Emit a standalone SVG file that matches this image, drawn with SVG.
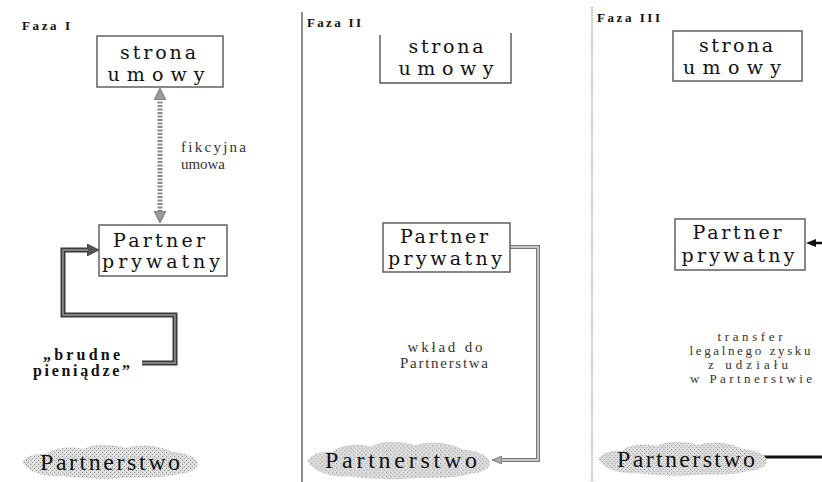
<svg xmlns="http://www.w3.org/2000/svg" width="822" height="482" viewBox="0 0 822 482">
<style>
.bg{fill:#ffffff}
.box{fill:#ffffff;stroke:#555;stroke-width:1.4}
.bt{font-family:"DejaVu Serif","Liberation Serif",serif;font-size:19px;fill:#111;text-anchor:middle}
.faza{font-family:"Liberation Serif",serif;font-weight:bold;font-size:13px;fill:#111}
.lbl{font-family:"Liberation Serif",serif;font-size:15px;fill:#333;text-anchor:middle}
.lbl3{font-family:"Liberation Serif",serif;font-size:13px;fill:#333;text-anchor:middle}
.lbl2{font-family:"Liberation Serif",serif;font-size:15px;fill:#333}
.dirty{font-family:"Liberation Serif",serif;font-weight:bold;font-size:16px;fill:#111}
.pt{font-family:"Liberation Serif",serif;font-size:24px;fill:#111}
.cloud{fill:url(#speck)}
.sep{stroke:#444;stroke-width:1.2;fill:none}
</style>
<defs>
<pattern id="speck" width="4" height="4" patternUnits="userSpaceOnUse">
<rect width="4" height="4" fill="#dcdcdc"/>
<rect x="0" y="0" width="1" height="1" fill="#8c8c8c"/>
<rect x="2" y="2" width="1" height="1" fill="#a0a0a0"/>
<rect x="3" y="0" width="1" height="1" fill="#f2f2f2"/>
</pattern>
<path id="cloudShape" d="M0,18 C4,12 14,9 24,10 C32,3 50,2 62,5 C72,-1 92,0 104,4 C118,-1 140,2 150,8 C162,8 174,13 176,19 C177,25 168,29 156,30 C140,35 118,33 100,34 C80,36 56,34 40,32 C24,34 6,28 0,18 Z"/>
<marker id="mGray" markerUnits="userSpaceOnUse" viewBox="0 0 12 12" refX="2" refY="6" markerWidth="12" markerHeight="12" orient="auto-start-reverse">
<path d="M0,0 L12,6 L0,12 Z" fill="#999" stroke="#666" stroke-width="0.8"/>
</marker>
<marker id="mDark" markerUnits="userSpaceOnUse" viewBox="0 0 12 12" refX="1" refY="6" markerWidth="12" markerHeight="12" orient="auto">
<path d="M0,0 L12,6 L0,12 Z" fill="#555" stroke="#333" stroke-width="0.8"/>
</marker>
<marker id="mLight" markerUnits="userSpaceOnUse" viewBox="0 0 10 8" refX="0" refY="4" markerWidth="10" markerHeight="8" orient="auto">
<path d="M0,0 L10,4 L0,8 Z" fill="#aaa" stroke="#666" stroke-width="0.8"/>
</marker>
<marker id="mBlack" markerUnits="userSpaceOnUse" viewBox="0 0 10 8" refX="0" refY="4" markerWidth="10" markerHeight="8" orient="auto">
<path d="M0,0 L10,4 L0,8 Z" fill="#111"/>
</marker>
</defs>
<rect class="bg" x="0" y="0" width="822" height="482"/>

<g id="separators">
<line class="sep" x1="302" y1="12" x2="302" y2="482"/>
<line x1="592" y1="7" x2="592" y2="482" stroke="#777" stroke-width="1" stroke-dasharray="1.5 1"/>
</g>

<g id="phase-labels">
<text class="faza" x="22" y="30" textLength="48" lengthAdjust="spacing">Faza I</text>
<text class="faza" x="307" y="27" textLength="54" lengthAdjust="spacing">Faza II</text>
<text class="faza" x="597" y="22" textLength="63" lengthAdjust="spacing">Faza III</text>
</g>

<g id="connectors">
<line x1="160" y1="98" x2="160" y2="213" stroke="#888" stroke-width="5" stroke-dasharray="2 1.5" marker-start="url(#mGray)" marker-end="url(#mGray)"/>
<path d="M142,363 H175 V315 H63 V250 H88" fill="none" stroke="#3a3a3a" stroke-width="5" marker-end="url(#mDark)"/>
<path d="M142,363 H175 V315 H63 V250 H88" fill="none" stroke="#9a9a9a" stroke-width="1.4"/>
<path d="M510,247 H538 V460 H502" fill="none" stroke="#777" stroke-width="4" marker-end="url(#mLight)"/>
<path d="M510,247 H538 V460 H502" fill="none" stroke="#e2e2e2" stroke-width="1.4"/>
<line x1="822" y1="243" x2="816" y2="243" stroke="#111" stroke-width="2.5" marker-end="url(#mBlack)"/>
<line x1="762" y1="457" x2="822" y2="457" stroke="#111" stroke-width="3"/>
</g>

<g id="labels">
<text class="lbl2" x="181" y="152" textLength="65" lengthAdjust="spacing">fikcyjna</text>
<text class="lbl2" x="181" y="169" textLength="44" lengthAdjust="spacing">umowa</text>
<text class="dirty" x="43" y="360" textLength="77" lengthAdjust="spacing">„brudne</text>
<text class="dirty" x="33" y="376" textLength="97" lengthAdjust="spacing">pieniądze”</text>
<text class="lbl" x="445" y="352" textLength="75" lengthAdjust="spacing">wkład do</text>
<text class="lbl" x="444" y="368" textLength="88" lengthAdjust="spacing">Partnerstwa</text>
<text class="lbl3" x="750" y="341" textLength="65" lengthAdjust="spacing">transfer</text>
<text class="lbl3" x="750" y="355" textLength="121" lengthAdjust="spacing">legalnego zysku</text>
<text class="lbl3" x="748" y="369" textLength="80" lengthAdjust="spacing">z udziału</text>
<text class="lbl3" x="751" y="383" textLength="122" lengthAdjust="spacing">w Partnerstwie</text>
</g>

<g id="strona-1">
<rect class="box" x="97" y="36" width="126" height="51"/>
<text class="bt" x="158" y="59" textLength="76" lengthAdjust="spacing">strona</text>
<text class="bt" x="156" y="81" textLength="97" lengthAdjust="spacing">umowy</text>
</g>
<g id="partner-1">
<rect class="box" x="99" y="225" width="128" height="51"/>
<text class="bt" x="159" y="247" textLength="92" lengthAdjust="spacing">Partner</text>
<text class="bt" x="161" y="268" textLength="118" lengthAdjust="spacing">prywatny</text>
</g>
<g id="partnerstwo-1">
<use href="#cloudShape" class="cloud" transform="translate(22,444)"/>
<text class="pt" x="40" y="470" textLength="140" lengthAdjust="spacing">Partnerstwo</text>
</g>

<g id="strona-2">
<path d="M380,35 V83 H511 V33" fill="none" stroke="#555" stroke-width="1.4"/>
<text class="bt" x="446" y="53" textLength="75" lengthAdjust="spacing">strona</text>
<text class="bt" x="446" y="75" textLength="95" lengthAdjust="spacing">umowy</text>
</g>
<g id="partner-2">
<rect class="box" x="383" y="223" width="127" height="49"/>
<text class="bt" x="444" y="243" textLength="88" lengthAdjust="spacing">Partner</text>
<text class="bt" x="445" y="265" textLength="114" lengthAdjust="spacing">prywatny</text>
</g>
<g id="partnerstwo-2">
<use href="#cloudShape" class="cloud" transform="translate(307,441) scale(1.04,1.1)"/>
<text class="pt" x="325" y="468" textLength="152" lengthAdjust="spacing">Partnerstwo</text>
</g>

<g id="strona-3">
<rect class="box" x="673" y="31" width="129" height="50"/>
<text class="bt" x="736" y="52" textLength="74" lengthAdjust="spacing">strona</text>
<text class="bt" x="732" y="74" textLength="98" lengthAdjust="spacing">umowy</text>
</g>
<g id="partner-3">
<rect class="box" x="675" y="219" width="130" height="51"/>
<text class="bt" x="737" y="239" textLength="89" lengthAdjust="spacing">Partner</text>
<text class="bt" x="738" y="262" textLength="113" lengthAdjust="spacing">prywatny</text>
</g>
<g id="partnerstwo-3">
<use href="#cloudShape" class="cloud" transform="translate(598,441) scale(0.96,1)"/>
<text class="pt" x="617" y="467" textLength="138" lengthAdjust="spacing">Partnerstwo</text>
</g>
</svg>
